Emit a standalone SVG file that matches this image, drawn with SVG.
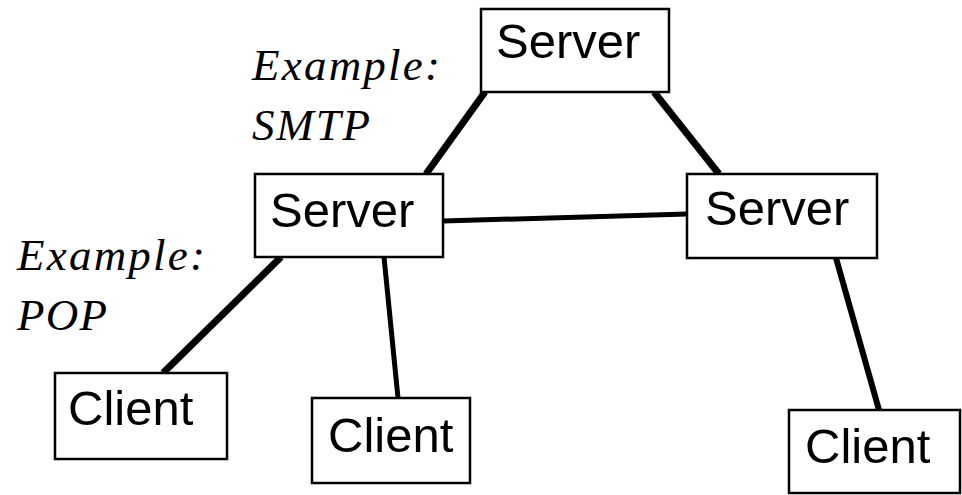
<svg xmlns="http://www.w3.org/2000/svg" width="962" height="495" viewBox="0 0 962 495">
<style>
.box{fill:#fff;stroke:#000;stroke-width:2.5}
.lbl{font-family:"Liberation Sans",Arial,sans-serif;font-size:49px;fill:#000}
.note{font-family:"Liberation Serif","Times New Roman",serif;font-style:italic;font-size:45px;fill:#000}
.con{stroke:#000;stroke-linecap:butt;fill:none}
</style>
<rect width="962" height="495" fill="#fff"/>
<g id="connectors">
<line class="con" x1="485" y1="92" x2="426" y2="174" stroke-width="7"/>
<line class="con" x1="654" y1="92" x2="719" y2="174" stroke-width="7"/>
<line class="con" x1="443" y1="221" x2="687" y2="214" stroke-width="5"/>
<line class="con" x1="281" y1="257" x2="163" y2="373" stroke-width="7"/>
<line class="con" x1="384" y1="257" x2="398" y2="398" stroke-width="5"/>
<line class="con" x1="836" y1="258" x2="879" y2="410" stroke-width="6"/>
</g>
<g id="server-top">
<rect class="box" x="481" y="9" width="188" height="83"/>
<text class="lbl" x="496" y="58">Server</text>
</g>
<g id="server-left">
<rect class="box" x="255" y="174" width="188" height="83"/>
<text class="lbl" x="270" y="227">Server</text>
</g>
<g id="server-right">
<rect class="box" x="687" y="174" width="190" height="84"/>
<text class="lbl" x="705" y="225">Server</text>
</g>
<g id="client-1">
<rect class="box" x="55" y="373" width="172" height="86"/>
<text class="lbl" x="68" y="425">Client</text>
</g>
<g id="client-2">
<rect class="box" x="312" y="398" width="158" height="85"/>
<text class="lbl" x="328" y="452">Client</text>
</g>
<g id="client-3">
<rect class="box" x="789" y="410" width="171" height="83"/>
<text class="lbl" x="805" y="463">Client</text>
</g>
<g id="note-smtp">
<text class="note" x="252" y="80" textLength="188" lengthAdjust="spacing">Example:</text>
<text class="note" x="252" y="140" textLength="118" lengthAdjust="spacing">SMTP</text>
</g>
<g id="note-pop">
<text class="note" x="17" y="270" textLength="188" lengthAdjust="spacing">Example:</text>
<text class="note" x="17" y="330" textLength="90" lengthAdjust="spacing">POP</text>
</g>
</svg>
